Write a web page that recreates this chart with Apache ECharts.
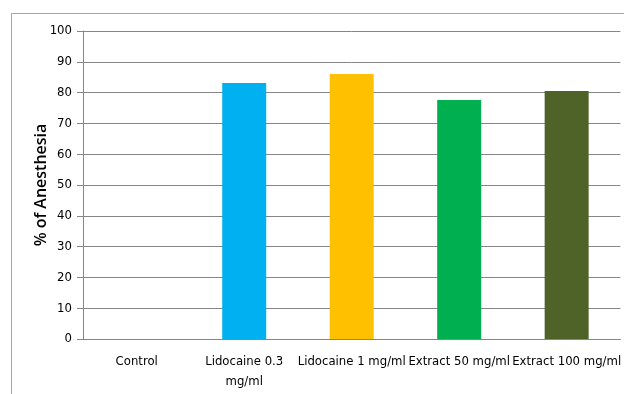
<!DOCTYPE html>
<html>
<head>
<meta charset="utf-8">
<script src="https://cdn.jsdelivr.net/npm/echarts@6/dist/echarts.min.js"></script>
<style>
  html, body { margin: 0; padding: 0; background: #fff; }
  #chart { width: 624px; height: 394px; }
</style>
</head>
<body>
<div id="chart"></div>
<script>
const categories = ['Control', 'Lidocaine 0.3\nmg/ml', 'Lidocaine 1 mg/ml', 'Extract 50 mg/ml', 'Extract 100 mg/ml'];
const values = [0, 83.1, 86.0, 77.6, 80.5];
const barColors = ['#00B0F0', '#00B0F0', '#FFC000', '#00B050', '#4F6228'];
const yTicks = { min: 0, max: 100, interval: 10 };

const font = "'Liberation Sans Narrow', 'Arial Narrow', 'DejaVu Sans Condensed', sans-serif";
const chart = echarts.init(document.getElementById('chart'), null, { renderer: 'canvas' });

chart.setOption({
  animation: false,
  backgroundColor: '#fff',
  graphic: [{
    type: 'polyline',
    shape: { points: [[11.5, 394], [11.5, 13.5], [624, 13.5]] },
    style: { stroke: '#A6A6A6', lineWidth: 1, fill: null },
    silent: true
  }],
  grid: { left: 83, right: 2, top: 31, bottom: 55 },
  xAxis: {
    type: 'category',
    data: categories,
    axisLine: { lineStyle: { color: '#868686', width: 1 } },
    axisTick: { show: false },
    axisLabel: { color: '#000', fontFamily: font, fontSize: 13, lineHeight: 20, margin: 13, interval: 0 }
  },
  yAxis: {
    type: 'value',
    min: yTicks.min, max: yTicks.max, interval: yTicks.interval,
    name: '% of Anesthesia',
    nameLocation: 'middle',
    nameGap: 34,
    nameMoveOverlap: false,
    nameTextStyle: { color: '#000', fontFamily: "'Open Sans', sans-serif", fontSize: 16, fontWeight: 600 },
    axisLine: { show: true, lineStyle: { color: '#868686' } },
    axisTick: { show: true, length: 6, lineStyle: { color: '#868686' } },
    splitLine: { lineStyle: { color: '#868686', width: 1 } },
    axisLabel: { color: '#000', fontFamily: font, fontSize: 13, margin: 11 }
  },
  series: [{
    type: 'bar',
    barWidth: 44,
    data: values.map((v, i) => ({ value: v, itemStyle: { color: barColors[i] } }))
  }]
});
</script>
</body>
</html>
